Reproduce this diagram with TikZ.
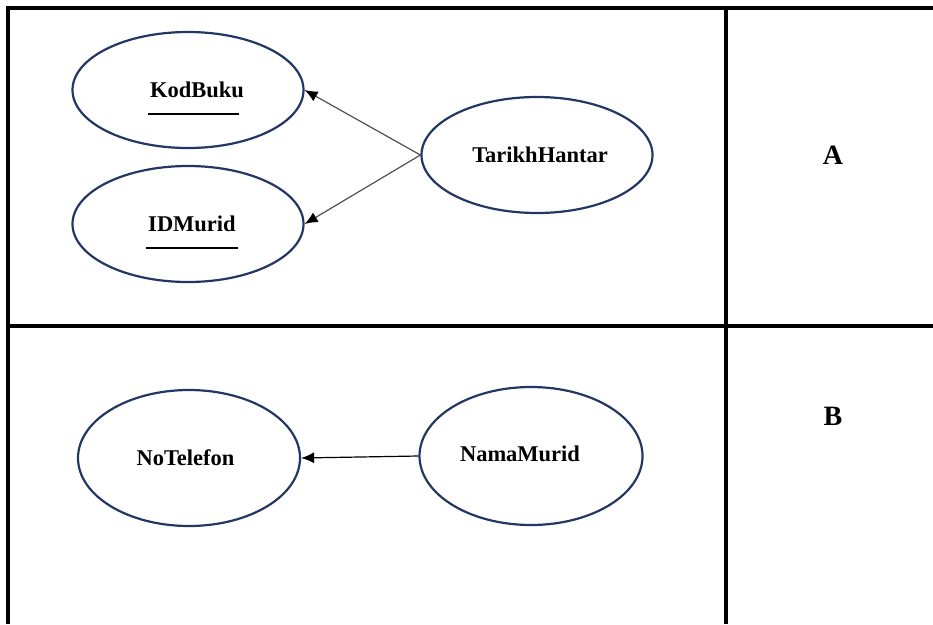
\documentclass[tikz,border=0pt]{standalone}
\usepackage{fontspec}
\setmainfont{Liberation Serif}
\usetikzlibrary{shapes.geometric,arrows.meta}
\definecolor{attrblue}{RGB}{35,55,100}
\definecolor{linkgray}{RGB}{80,80,80}
\begin{document}
\begin{tikzpicture}[x=1pt,y=-1pt]
\tikzstyle{every node}+=[inner sep=0pt]
\tikzstyle{attr}=[ellipse, draw=attrblue, line width=2.2pt, minimum width=231pt, minimum height=116pt, font=\fontsize{22.5}{26}\selectfont\bfseries]
\tikzstyle{dep}=[draw=linkgray, line width=1.2pt, -{Latex[length=13pt,width=11pt,color=black]}]
\useasboundingbox (0,0) rectangle (933,624);
% table frame
\draw [black, line width=3.2pt] (8,624) -- (8,8) -- (933,8);
\draw [black, line width=3.2pt] (8,326) -- (933,326);
\draw [black, line width=3.2pt] (726,8) -- (726,624);
% row A
\node [attr] (kodbuku) at (188,90) {\hspace{18pt}KodBuku};
\node [attr] (idmurid) at (188,224) {\hspace{8pt}IDMurid};
\node [attr] (tarikh) at (537,155) {\hspace{6pt}TarikhHantar};
\draw [black, line width=2.6pt] (148,114) -- (239,114);
\draw [black, line width=2.6pt] (146,248) -- (238,248);
\draw [dep] (tarikh.west) -- (kodbuku.east);
\draw [dep] (tarikh.west) -- (idmurid.east);
\node [font=\fontsize{28}{32}\selectfont\bfseries] (rowa) at (833,155) {A};
% row B
\node [attr, minimum width=222pt, minimum height=136pt] (notel) at (189,458) {\hspace{-7pt}NoTelefon};
\node [attr, minimum width=223pt, minimum height=138pt] (nama) at (531,456) {\hspace{-22pt}\raisebox{5pt}{NamaMurid}};
\draw [dep, draw=black] (nama.west) -- (notel.east);
\node [font=\fontsize{28}{32}\selectfont\bfseries] (rowb) at (833,416) {B};
\end{tikzpicture}
\end{document}
